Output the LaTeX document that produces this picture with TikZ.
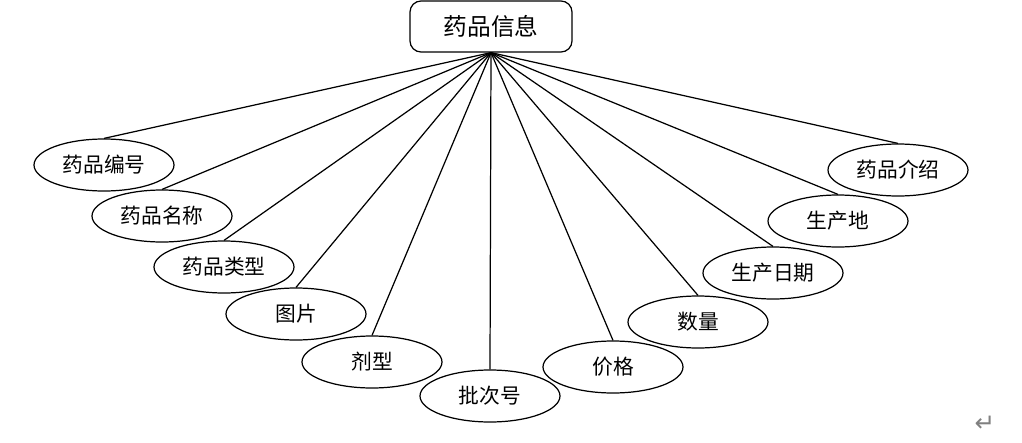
\documentclass[tikz,border=0pt]{standalone}
\usepackage{fontspec}
\newfontfamily\cjk{Noto Sans CJK SC}
\newfontfamily\symb{DejaVu Sans}
\usepackage{tikz}
\usetikzlibrary{shapes.geometric}

\begin{document}
\begin{tikzpicture}[
  x=0.02cm, y=-0.02cm,
  entity/.style={draw, line width=0.7pt, rounded corners=0.22cm, minimum width=3.24cm, minimum height=1.02cm, inner sep=0pt, font=\cjk\fontsize{13.5}{15}\selectfont},
  attr/.style={draw, ellipse, line width=0.7pt, minimum width=2.8cm, minimum height=1.04cm, inner sep=0pt, font=\cjk\fontsize{11.8}{13}\selectfont},
  link/.style={line width=0.7pt}
]
\useasboundingbox (0,0) rectangle (1022,443);
\node[entity] (drug) at (491,26.5) {药品信息};
\node[attr] (code) at (104,165) {药品编号};
\node[attr] (name) at (162,216) {药品名称};
\node[attr] (kind) at (224,267) {药品类型};
\node[attr] (pic) at (296,314) {图片};
\node[attr] (form) at (372,362) {剂型};
\node[attr] (batch) at (490,396) {批次号};
\node[attr] (price) at (613,367) {价格};
\node[attr] (qty) at (698,322) {数量};
\node[attr] (date) at (773,273) {生产日期};
\node[attr] (place) at (838,221) {生产地};
\node[attr] (intro) at (898,170) {药品介绍};
\node[text=gray, font=\symb\fontsize{14}{16}\selectfont] (ret) at (985,424) {↵};
\foreach \a in {code,name,kind,pic,form,batch,price,qty,date,place,intro}
  \draw[link] (drug.south) -- (\a.north);
\end{tikzpicture}
\end{document}
